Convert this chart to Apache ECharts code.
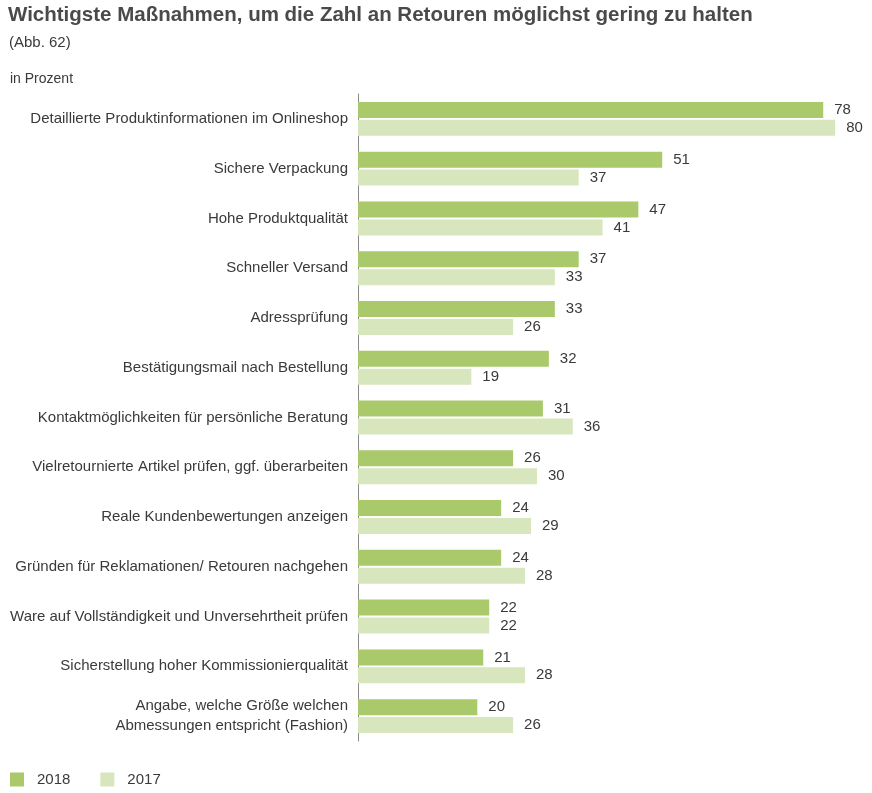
<!DOCTYPE html>
<html lang="de">
<head>
    <meta charset="UTF-8">
    <title>Retouren Maßnahmen</title>
    <script src="https://cdn.jsdelivr.net/npm/echarts@6/dist/echarts.min.js"></script>
    <style>
        *{margin:0;padding:0;overflow:hidden;}
        #main{width:872px;height:793px;background:#fff;}
    </style>
</head>
<body>
<div id="main"></div>
<script>
    // Kategorien von oben nach unten
    var categories = [
        'Detaillierte Produktinformationen im Onlineshop',
        'Sichere Verpackung',
        'Hohe Produktqualität',
        'Schneller Versand',
        'Adressprüfung',
        'Bestätigungsmail nach Bestellung',
        'Kontaktmöglichkeiten für persönliche Beratung',
        'Vielretournierte Artikel prüfen, ggf. überarbeiten',
        'Reale Kundenbewertungen anzeigen',
        'Gründen für Reklamationen/ Retouren nachgehen',
        'Ware auf Vollständigkeit und Unversehrtheit prüfen',
        'Sicherstellung hoher Kommissionierqualität',
        'Angabe, welche Größe welchen\nAbmessungen entspricht (Fashion)'
    ]
    var values2018 = [78, 51, 47, 37, 33, 32, 31, 26, 24, 24, 22, 21, 20]
    var values2017 = [80, 37, 41, 33, 26, 19, 36, 30, 29, 28, 22, 28, 26]
    var seriesNames = ['2018', '2017']

    var font = '"Liberation Sans", Arial, sans-serif'
    var txt = '#3a3a3a'

    var chart = echarts.init(document.getElementById('main'))
    var option = {
        animation:false,
        title:[
            {text:'Wichtigste Maßnahmen, um die Zahl an Retouren möglichst gering zu halten',
             left:8, top:5, padding:0,
             textStyle:{fontFamily:font, fontSize:20.5, fontWeight:'bold', color:'#4a4a4a'}},
            {text:'(Abb. 62)', left:9, top:35, padding:0,
             textStyle:{fontFamily:font, fontSize:15, fontWeight:'normal', color:txt}},
            {text:'in Prozent', left:10, top:72, padding:0,
             textStyle:{fontFamily:font, fontSize:14, fontWeight:'normal', color:txt}}
        ],
        legend:{
            left:10, bottom:6, padding:0,
            itemWidth:14, itemHeight:14, itemGap:30,
            icon:'rect',
            textStyle:{fontFamily:font, fontSize:15, color:txt, padding:[0,0,0,8]},
            data:seriesNames
        },
        grid:{left:358, top:94, width:507, height:647},
        xAxis:{
            type:'value', min:0, max:85,
            show:false
        },
        yAxis:{
            type:'category',
            data:categories,
            inverse:true,
            axisLine:{show:true, lineStyle:{color:'#8a8a8a', width:1}},
            axisTick:{show:false},
            axisLabel:{fontFamily:font, fontSize:15, color:txt, margin:10, lineHeight:20, align:'right'}
        },
        series:[
            {
                name:seriesNames[0], type:'bar', data:values2018,
                barWidth:16, barGap:'12%',
                itemStyle:{color:'#a9c96b'},
                label:{show:true, position:'right', distance:11, fontFamily:font, fontSize:15, color:txt}
            },
            {
                name:seriesNames[1], type:'bar', data:values2017,
                barWidth:16,
                itemStyle:{color:'#d7e6bc'},
                label:{show:true, position:'right', distance:11, fontFamily:font, fontSize:15, color:txt}
            }
        ]
    }
    chart.setOption(option)
</script>
</body>
</html>
